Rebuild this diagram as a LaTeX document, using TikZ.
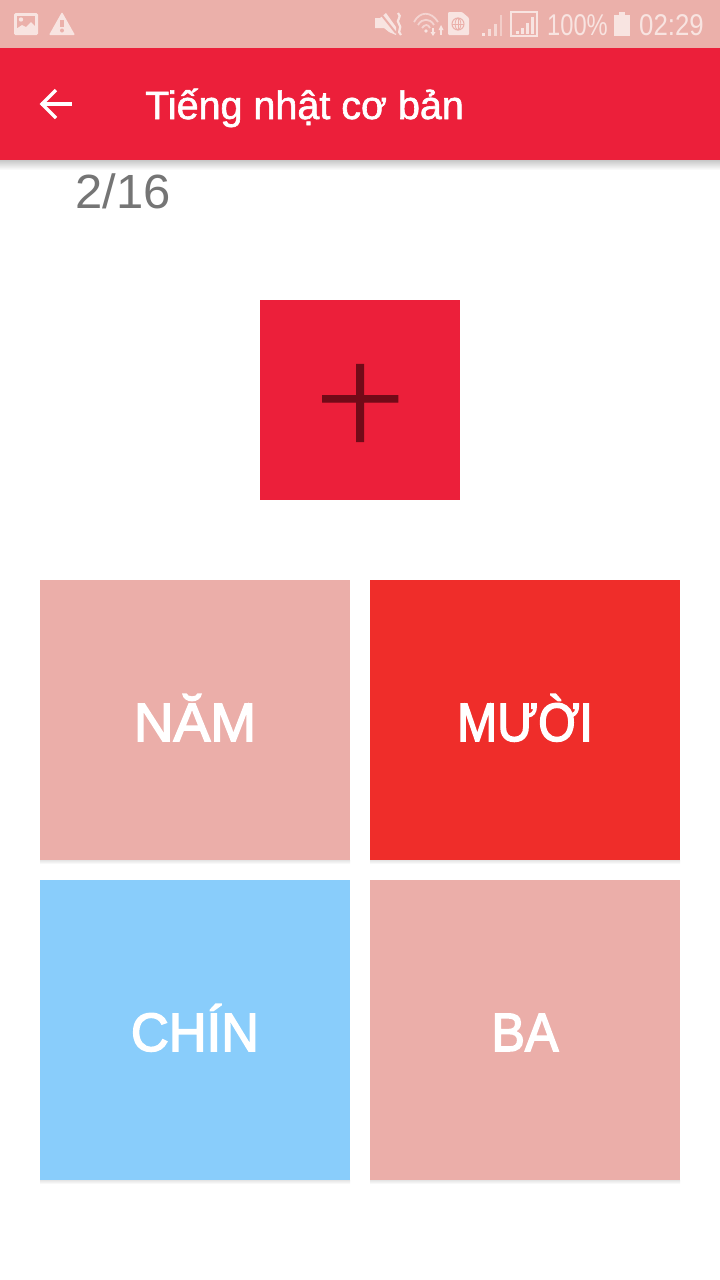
\documentclass[tikz,border=0pt]{standalone}
\usepackage{fontspec}
\setmainfont{Liberation Sans}
\newfontfamily\medfont[FakeBold=1.6]{Liberation Sans}
\newfontfamily\cardfont[FakeBold=2.8]{Liberation Sans}
\newfontfamily\cjkfont[FakeBold=1.2]{Noto Sans CJK JP}
\usetikzlibrary{shadings}
\definecolor{statusbg}{HTML}{EBB0AA}
\definecolor{barred}{HTML}{EC1F3A}
\definecolor{cardpink}{HTML}{EBAEA9}
\definecolor{cardred}{HTML}{EF2D2A}
\definecolor{cardblue}{HTML}{89CDFB}
\definecolor{darkcross}{HTML}{720A18}
\definecolor{countgrey}{HTML}{757575}
\definecolor{iconpale}{HTML}{F8E4E1}
\definecolor{shadowgrey}{HTML}{C8C8C8}
\definecolor{softshadow}{HTML}{E4E4E4}
\tikzset{
  x=1pt,y=-1pt,
  cardtext/.style={text=white,font=\cardfont\fontsize{54}{54}\selectfont,anchor=base,inner sep=0pt},
  statustext/.style={text=iconpale,font=\fontsize{30}{30}\selectfont,inner sep=0pt,anchor=base west},
  iconfill/.style={fill=iconpale,draw=none},
  iconline/.style={draw=iconpale,line width=1.6pt},
  faintline/.style={draw=iconpale!70!statusbg,line width=1.8pt},
}
\newcommand{\cardbox}[6]{% name, x1, y1, x2, y2, colour
  \shade[top color=softshadow,bottom color=white] (#2,#5) rectangle (#4,#5+4);
  \fill[#6] (#2,#3) rectangle (#4,#5);
}
\begin{document}
\begin{tikzpicture}
\useasboundingbox (0,0) rectangle (720,1280);
\fill[white] (0,0) rectangle (720,1280);
% status bar
\fill[statusbg] (0,0) rectangle (720,48);
% toolbar
\shade[top color=shadowgrey,bottom color=white] (0,160) rectangle (720,170);
\fill[barred] (0,48) rectangle (720,160);
% image icon
\fill[iconfill,rounded corners=1.5pt] (14,13) rectangle (38,35);
\fill[statusbg] (17,16) rectangle (35,32);
\fill[iconfill] (16,33) -- (16,29) -- (22,25) -- (26,27) -- (31,22) -- (36,27) -- (36,33) -- cycle;
\fill[iconfill] (21,19.5) circle (2.2);
% warning icon
\fill[iconfill,rounded corners=1pt] (62,12) -- (75,35) -- (49,35) -- cycle;
\fill[statusbg] (60.3,20) rectangle (63.7,27);
\fill[statusbg] (62,30.5) circle (2);
% mute icon
\fill[iconfill] (375,18) -- (380,18) -- (386,13) -- (396,27) -- (396,35) -- (389,32) -- (384,28) -- (375,28) -- cycle;
\draw[statusbg,line width=2pt] (380,13) -- (396,33);
\draw[iconline,line width=2.2pt] (398,13) .. controls (403,17) and (395,20) .. (399,24) .. controls (403,28) and (396,31) .. (401,35);
% wifi icon
\draw[faintline] (414,22) .. controls (420,11) and (431,11) .. (438,22);
\draw[faintline] (418,25) .. controls (422,18) and (430,18) .. (434,25);
\draw[faintline] (422,28) .. controls (425,24) and (428,24) .. (430,28);
\fill[iconfill] (426,31) circle (1.8);
\draw[iconline,line width=1.3pt] (433,28) -- (433,34);
\draw[iconline,line width=1.3pt] (441,35) -- (441,28);
\fill[iconfill] (430.5,32) -- (435.5,32) -- (433,36) -- cycle;
\fill[iconfill] (438.5,30) -- (443.5,30) -- (441,25) -- cycle;
% sim icon
\fill[iconfill,rounded corners=1pt] (448,12) -- (462,12) -- (469,18) -- (469,35) -- (448,35) -- cycle;
\draw[statusbg,line width=1pt] (458,24) circle (6);
\draw[statusbg,line width=.8pt] (452,24) -- (464,24) (458,18) -- (458,30);
\draw[statusbg,line width=.8pt] (458,24) ellipse (2.8 and 6);
% signal 1
\fill[iconpale] (482,33) rectangle (485,36);
\fill[iconpale!85!statusbg] (488,29) rectangle (491,36);
\fill[iconpale!75!statusbg] (494,24) rectangle (497,36);
\fill[iconpale!55!statusbg] (500,15) rectangle (502,36);
% signal 2 boxed
\draw[iconline] (511,12) rectangle (537,36);
\fill[iconfill] (516,31) rectangle (519,33.5);
\fill[iconfill] (521,28) rectangle (523.5,33.5);
\fill[iconfill] (526,23) rectangle (528.5,33.5);
\fill[iconfill] (531,17) rectangle (533.5,33.5);
% status texts
\node[statustext,xscale=.79] (batpct) at (547,35) {100\%};
\node[statustext,xscale=.86] (clock) at (639,35) {02:29};
% battery
\fill[iconfill] (614,15) rectangle (630,36);
\fill[iconfill] (619,12) rectangle (625,15);
% back arrow
\draw[white,line width=3.4pt] (41,104) -- (72,104);
\draw[white,line width=3.4pt] (56,90) -- (42,104) -- (56,118);
% title
\node[text=white,font=\medfont\fontsize{39.5}{40}\selectfont,anchor=base west,inner sep=0pt] (title) at (145,119) {Tiếng nhật cơ bản};
% counter
\node[text=countgrey,font=\fontsize{48}{48}\selectfont,anchor=base west,inner sep=0pt,xscale=1.02] (counter) at (75,208) {2/16};
% question card
\fill[barred] (260,300) rectangle (460,500);
\node[text=darkcross,font=\cjkfont\fontsize{84}{84}\selectfont,inner sep=0pt,anchor=center] (kanji) at (360,403) {十};
% answers
\cardbox{c1}{40}{580}{350}{860}{cardpink}
\cardbox{c2}{370}{580}{680}{860}{cardred}
\cardbox{c3}{40}{880}{350}{1180}{cardblue}
\cardbox{c4}{370}{880}{680}{1180}{cardpink}
\node[cardtext,xscale=1.02] (t1) at (195,741) {NĂM};
\node[cardtext,xscale=.89] (t2) at (525,741) {MƯỜI};
\node[cardtext,xscale=.97] (t3) at (195,1051) {CHÍN};
\node[cardtext,xscale=.93] (t4) at (525,1051) {BA};
\end{tikzpicture}
\end{document}
